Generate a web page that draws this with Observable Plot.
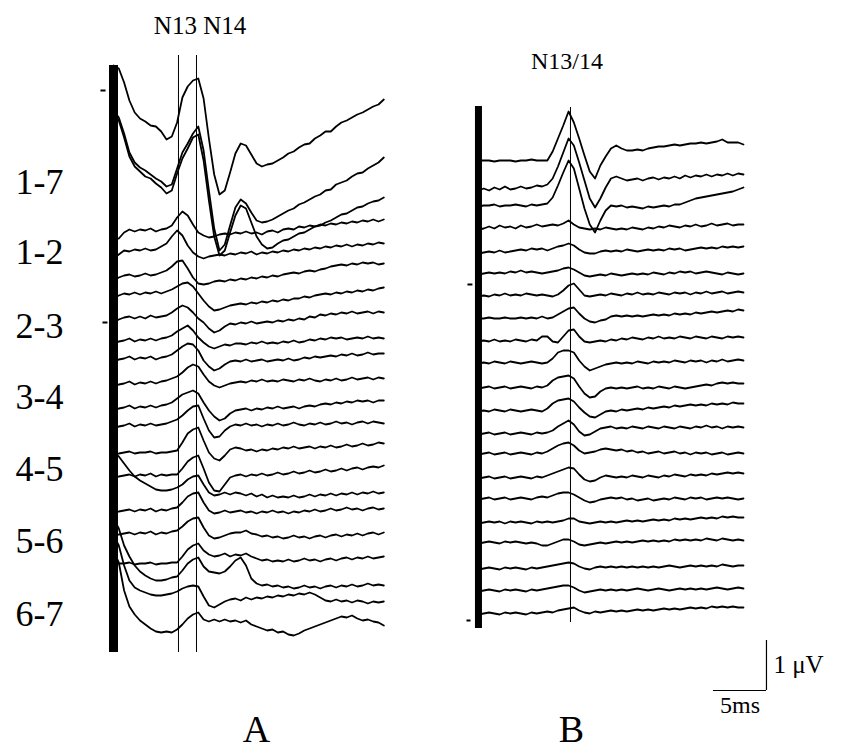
<!DOCTYPE html>
<html><head><meta charset="utf-8">
<script src="https://cdn.jsdelivr.net/npm/d3@7"></script>
<script src="https://cdn.jsdelivr.net/npm/@observablehq/plot@0.6"></script>
<style>body{margin:0;background:#fff}#chart{width:846px;height:753px}</style>
</head><body><div id="chart"></div>
<script>
// ---- data -------------------------------------------------------------
const STEP_MS = 0.5;               // sampling step of every trace
const PANEL_B_SHIFT_MS = 34.43;    // panel B drawn to the right of panel A
// baseline of each stacked trace (µV)
const offsetsA = [12.0,10.86,10.06,9.4,9.0,8.5,8.14,7.66,7.2,6.84,6.34,5.86,5.5,4.96,4.5,4.2,3.8,3.34,2.74,2.3,1.96,1.5];
// deflections, hundredths of µV, one value every 0.5 ms
const tracesA = [
[70,64,36,0,-24,-36,-42,-50,-52,-62,-78,-72,-44,6,28,40,44,4,-76,-148,-188,-180,-144,-106,-86,-90,-108,-126,-132,-128,-126,-120,-114,-106,-102,-94,-88,-86,-76,-70,-62,-62,-52,-44,-40,-34,-28,-24,-18,-12,-8,2],
[94,80,48,10,-10,-20,-26,-34,-42,-48,-58,-54,-22,10,28,48,62,14,-66,-142,-186,-174,-136,-100,-84,-92,-110,-126,-130,-128,-124,-118,-112,-106,-102,-94,-90,-84,-78,-74,-66,-64,-54,-50,-46,-38,-32,-30,-22,-16,-10,0],
[170,154,120,82,62,52,42,38,28,20,8,14,48,78,98,120,126,74,-6,-78,-116,-106,-70,-36,-16,-22,-50,-78,-94,-102,-100,-92,-86,-84,-78,-72,-70,-64,-58,-56,-50,-46,-40,-34,-32,-26,-20,-18,-12,-8,-6,0],
[-20,-16,-4,2,-2,2,0,4,-2,2,4,10,26,38,30,12,-4,-10,-14,-12,-8,-6,-8,-4,-6,-2,-6,-4,-8,-2,0,-4,2,4,2,8,6,10,8,12,10,14,12,16,14,18,16,20,18,22,18,22],
[-16,-8,0,-2,2,0,4,0,2,8,14,28,40,30,10,-4,-12,-16,-12,-10,-8,-10,-6,-8,-4,-6,-2,-8,-4,-6,-2,-4,0,-2,2,0,4,2,6,4,8,6,10,8,12,8,12,10,14,12,16,14],
[-10,-4,0,2,-2,0,4,0,2,6,10,18,28,30,14,-4,-16,-18,-16,-12,-10,-12,-8,-10,-6,-8,-4,-6,-2,-4,0,-2,2,4,6,4,8,10,8,12,14,18,20,22,20,24,22,26,24,26,22,24],
[-10,-4,0,-2,2,-2,2,0,4,0,4,8,14,20,22,14,0,-14,-26,-34,-32,-28,-24,-22,-20,-22,-18,-20,-16,-18,-14,-16,-12,-14,-10,-10,-6,-8,-4,-2,0,-2,2,0,4,2,6,4,8,6,10,12],
[-10,-4,0,2,-2,2,-2,4,0,2,4,10,18,24,20,10,-2,-10,-22,-30,-26,-18,-12,-14,-10,-12,-8,-12,-10,-8,-10,-6,-8,-4,-6,-2,-4,2,0,6,4,8,6,10,8,12,8,10,12,8,12,10],
[-8,-2,0,4,-2,2,0,4,0,4,6,10,18,24,30,20,6,-4,-12,-16,-12,-8,-10,-6,-6,-8,-4,-6,-2,-6,-4,-6,-2,-4,0,-4,-2,2,0,4,2,6,4,6,2,4,6,4,8,4,6,4],
[-8,-2,0,4,-2,2,0,4,-2,2,4,8,16,24,30,28,16,-4,-16,-24,-20,-12,-6,-4,-6,-2,-6,-4,-2,-6,-4,-2,-4,0,-4,-2,2,0,4,2,4,6,4,8,6,10,6,8,12,8,10,10],
[-8,-2,0,4,-2,2,0,4,0,4,6,10,14,22,32,38,34,18,4,-4,-8,-4,0,2,4,2,6,4,8,4,6,4,8,6,4,8,6,10,6,4,8,6,10,6,8,12,8,10,12,8,12,10],
[-8,-2,0,4,-2,2,0,4,0,4,6,10,18,26,30,34,28,10,-6,-18,-26,-22,-12,-6,-4,-2,-6,-2,-4,0,-2,2,-2,0,2,-2,2,4,2,6,8,6,10,8,12,10,14,12,14,10,14,14],
[-8,-2,0,4,-2,2,0,4,0,2,4,8,12,20,30,38,40,14,-10,-24,-22,-10,-2,2,0,4,0,2,-2,2,0,4,0,2,6,2,0,4,2,6,2,4,8,4,6,2,6,8,4,8,6,4],
[-6,-2,0,2,-2,0,0,2,-2,0,0,2,4,20,38,46,50,24,0,-12,-16,-6,6,10,8,4,6,2,6,4,8,6,10,8,12,8,10,12,8,12,10,14,10,12,16,12,14,18,14,16,20,18],
[-6,-2,0,2,-2,2,0,4,-2,2,0,2,2,14,28,36,40,14,-14,-30,-32,-18,-4,0,2,-2,2,0,4,0,2,6,2,4,8,4,6,10,6,8,12,8,10,14,10,14,16,12,16,18,16,20],
[76,68,54,40,28,20,14,8,2,0,0,2,6,12,22,28,30,12,-4,-10,-8,-4,-8,-4,-6,-10,-6,-12,-8,-14,-10,-14,-12,-14,-10,-14,-12,-8,-12,-8,-10,-6,-10,-6,-8,-4,-8,-4,-6,-2,-6,-4],
[-6,-2,0,2,-2,2,0,4,-2,2,0,4,6,16,28,34,36,16,0,-6,-4,0,-4,-2,0,-4,-2,-6,-2,-4,0,-4,-2,-6,-2,-4,0,-2,2,-2,0,4,0,2,6,2,4,0,4,6,2,4],
[-6,-2,0,2,-2,2,0,4,-2,2,0,4,6,14,24,30,32,12,-4,-10,-8,-4,0,2,2,6,0,-2,-6,-4,-8,-6,-10,-8,-4,-8,-6,-10,-6,-4,-8,-4,-2,-6,-2,-4,0,-4,0,2,-2,2],
[-4,0,0,2,-2,0,0,2,-2,0,0,2,2,14,28,36,40,26,18,14,16,20,14,18,16,20,14,10,6,8,4,6,4,8,4,6,10,6,8,4,8,10,6,10,12,8,12,10,14,10,12,14],
[134,114,80,58,40,28,20,14,10,10,12,16,18,30,44,52,56,38,28,26,24,28,38,50,56,40,14,4,0,2,-2,0,-4,-2,-6,-4,0,-4,-2,-6,-2,0,-4,0,-2,2,-2,0,4,0,2,0],
[134,114,74,44,30,24,20,16,14,14,16,18,22,28,32,34,32,12,-6,-10,-4,2,6,8,4,10,6,10,8,12,10,14,12,16,14,18,16,20,16,10,4,2,6,2,4,0,4,2,-2,2,0,2],
[150,126,70,38,22,10,2,-6,-12,-14,-12,-14,-8,2,14,22,26,12,8,12,8,12,8,10,6,10,2,-2,-6,-10,-8,-14,-12,-18,-20,-16,-10,-6,-2,2,6,10,14,18,16,20,14,10,12,8,6,0]
];
const offsetsB = [10.8,10.24,9.9,9.46,8.96,8.54,8.1,7.64,7.2,6.76,6.26,5.8,5.34,4.94,4.46,4.04,3.56,3.16,2.64,2.2,1.74];
const tracesB = [
[0,0,0,-2,0,0,0,-2,0,0,2,0,0,0,18,44,70,98,76,44,10,-22,-36,-10,8,24,30,24,20,20,22,20,24,26,28,28,30,32,30,32,34,34,36,34,36,38,42,36,36,36,32],
[-4,0,-4,2,-2,4,-2,0,4,0,2,6,4,8,20,44,72,100,86,52,16,-20,-38,-20,2,20,24,20,16,18,20,16,20,22,18,22,20,24,20,26,22,26,24,28,24,28,26,30,26,30,28],
[-2,0,0,2,-2,0,0,2,0,-2,2,0,2,4,16,40,66,90,74,34,-6,-38,-54,-30,-10,0,-2,0,-4,-2,-4,-6,-2,-4,-2,0,-2,2,2,6,10,14,16,18,20,22,24,26,28,32,36],
[-4,-2,2,-2,4,0,2,-2,4,0,2,6,2,4,6,4,8,14,6,0,-2,-4,-2,-4,0,-2,-4,-2,-4,0,-2,-4,0,-2,2,0,4,2,0,4,2,6,2,4,8,4,6,8,4,6,6],
[-2,0,2,0,4,0,2,4,6,4,8,6,8,4,8,12,14,18,14,6,0,-2,-2,2,4,2,4,2,6,4,2,4,6,4,6,4,8,6,8,4,6,8,10,8,10,8,12,10,12,10,12],
[-2,0,2,0,2,0,4,2,6,2,4,2,0,2,4,6,10,12,8,2,-4,-6,-4,-2,-4,0,-2,-4,-2,0,-2,0,-2,2,0,-2,2,0,4,2,4,0,2,4,2,0,-2,2,0,-2,0],
[-2,0,-2,2,0,4,0,2,0,4,2,0,2,0,-2,2,10,20,24,12,0,-2,0,2,0,4,2,0,4,2,6,2,4,2,6,4,2,6,4,6,2,6,4,8,4,6,8,4,6,8,6],
[0,0,2,0,0,2,0,0,2,0,2,0,4,0,2,8,14,20,22,10,0,-6,-8,-4,-2,4,6,4,6,4,6,4,6,8,6,8,6,10,8,10,8,12,10,12,14,12,14,16,14,18,16],
[-2,0,-2,2,-2,0,-2,2,0,-2,2,0,8,8,-2,-4,8,20,22,8,-2,-4,-2,0,-2,2,0,4,2,6,4,2,6,4,8,4,6,4,8,6,4,8,6,4,8,6,4,8,6,8,6],
[-2,0,-2,2,0,-2,2,0,-2,0,2,0,-2,0,8,20,24,24,20,4,-8,-16,-12,-8,-4,-2,0,-2,0,-2,2,0,-2,2,0,2,0,4,2,0,4,2,4,0,4,2,6,2,4,6,4],
[-2,0,2,-2,0,2,-2,0,2,0,-2,2,0,4,14,20,22,24,18,2,-12,-20,-18,-8,-2,0,-2,0,-2,0,2,-2,0,-2,2,0,-2,2,0,-2,0,2,4,6,4,8,10,8,10,8,8],
[-2,0,-2,2,0,-2,2,0,-2,0,2,0,-2,4,14,20,22,24,18,6,-4,-12,-14,-8,-2,0,-2,2,0,2,4,2,6,4,6,8,6,10,8,10,12,10,12,10,14,12,14,12,16,14,14],
[-2,0,2,-2,0,2,-2,0,2,0,-2,2,0,2,6,14,20,26,18,4,-4,-2,4,10,12,14,10,12,10,14,12,10,14,12,10,14,12,10,14,12,10,14,12,16,12,14,10,14,12,14,12],
[-2,0,2,-2,0,2,-2,0,2,0,-2,2,0,4,10,16,20,22,16,6,0,2,4,8,10,8,6,8,4,6,2,4,0,2,4,0,2,4,0,2,-2,2,0,2,-2,0,2,-2,0,2,0],
[-2,0,2,-2,0,2,-2,0,2,0,-2,2,0,4,8,12,16,20,18,6,-4,-8,-6,0,4,2,0,2,0,4,2,0,4,2,0,4,2,6,4,2,6,4,6,4,8,6,8,10,8,10,8],
[-2,0,2,-2,0,2,-2,0,2,0,-2,2,4,2,6,10,12,12,8,2,-4,-8,-6,-2,0,2,0,2,-2,0,-4,-2,0,-4,-2,0,-2,2,0,-2,2,0,2,-2,0,2,0,2,0,-2,0],
[-2,0,2,0,2,-2,2,0,2,0,-2,2,0,2,0,2,4,8,8,2,0,-2,0,2,0,2,0,2,4,2,4,2,4,6,4,6,4,8,6,8,6,8,10,8,10,8,12,10,12,10,10],
[-2,0,2,0,-2,2,0,2,0,-2,0,-2,-6,-6,-2,2,6,6,2,-4,-6,-4,-2,0,-2,0,2,0,2,0,2,4,2,4,2,4,2,6,4,6,4,6,4,8,6,4,8,6,4,6,4],
[-2,0,2,0,-2,2,0,2,0,-2,2,0,2,4,6,8,10,12,10,4,0,-2,2,4,2,4,2,4,2,4,2,4,2,4,2,4,6,4,2,4,6,4,6,4,6,4,8,6,4,6,6],
[-2,0,2,0,-2,2,0,2,0,-2,2,0,2,4,6,8,10,10,6,0,-4,-2,0,2,0,2,0,2,0,2,4,2,0,2,4,2,0,2,4,2,4,2,4,2,4,6,4,2,4,6,4],
[-2,0,2,0,-2,2,0,2,0,-2,2,0,2,4,2,6,8,10,12,6,2,0,4,2,4,6,4,6,4,6,8,6,8,6,8,10,8,10,8,10,12,10,12,10,14,12,14,12,14,12,12]
];
// latency markers (ms) and their vertical extent (µV)
const latencyLines = [
  {panel:"A", t:6.13, top:12.9, bottom:0.96},
  {panel:"A", t:7.83, top:12.9, bottom:0.96},
  {panel:"B", t:8.68, top:11.86, bottom:1.56}
];
const peakLabels = [
  {panel:"A", t:8.16, v:13.34, text:"N13 N14", size:25},
  {panel:"B", t:8.35, v:12.64, text:"N13/14", size:24}
];
// stimulus artefact bars
const stimBars = [
  {panel:"A", t:0, top:12.7, bottom:0.96, w:9},
  {panel:"B", t:0, top:11.88, bottom:1.44, w:7}
];
const smallMarks = [
  {panel:"A", t1:-1.23, t2:-0.75, v:12.2},
  {panel:"A", t1:-1.04, t2:-0.57, v:7.56},
  {panel:"B", t1:-1.04, t2:-0.57, v:8.32},
  {panel:"B", t1:-1.13, t2:-0.75, v:1.6}
];
const rowLabels = ["1-7","1-2","2-3","3-4","4-5","5-6","6-7"];
const rowLabelLevels = [10.14,8.74,7.26,5.84,4.4,2.96,1.5];
const panelLabels = [{text:"A", t:13.49}, {text:"B", t:8.77, panel:"B"}];
const scaleBar = {t:61.6, v:0.2, ms:5, uV:1};

// ---- build ------------------------------------------------------------
const shift = p => p === "B" ? PANEL_B_SHIFT_MS : 0;
const rows = [];
function addPanel(panel, offsets, traces) {
  traces.forEach((vals, i) => vals.forEach((d, k) =>
    rows.push({id: panel + i, x: k * STEP_MS + shift(panel), y: offsets[i] + d / 100})));
}
addPanel("A", offsetsA, tracesA);
addPanel("B", offsetsB, tracesB);

const serif = "'Liberation Serif','Times New Roman',serif";
const chart = Plot.plot({
  width: 846, height: 753, margin: 0,
  x: {domain: [-10.66, 69.15], axis: null},
  y: {domain: [-1.06, 14], axis: null},
  style: {background: "#fff"},
  marks: [
    Plot.ruleX(latencyLines, {x: d => d.t + shift(d.panel), y1: "bottom", y2: "top", stroke: "#000", strokeWidth: 1}),
    Plot.line(rows, {x: "x", y: "y", z: "id", stroke: "#000", strokeWidth: 1.8, curve: "linear"}),
    Plot.ruleX(stimBars, {x: d => d.t + shift(d.panel), y1: "bottom", y2: "top", stroke: "#000", strokeWidth: d => d.w}),
    Plot.link(smallMarks, {x1: d => d.t1 + shift(d.panel), x2: d => d.t2 + shift(d.panel), y1: "v", y2: "v", stroke: "#000", strokeWidth: 2}),
    Plot.text(peakLabels, {x: d => d.t + shift(d.panel), y: "v", text: "text", fontSize: d => d.size, lineAnchor: "bottom", fontFamily: serif, fill: "#000"}),
    Plot.text(rowLabels, {y: (d, i) => rowLabelLevels[i], text: d => d, frameAnchor: "left", dx: 15, textAnchor: "start", lineAnchor: "bottom", fontSize: 36, fontFamily: serif, fill: "#000"}),
    Plot.text(panelLabels, {x: d => d.t + shift(d.panel), frameAnchor: "bottom", dy: -12, lineAnchor: "bottom", text: "text", fontSize: 38, fontFamily: serif, fill: "#000"}),
    Plot.ruleX([scaleBar], {x: "t", y1: "v", y2: d => d.v + d.uV, stroke: "#000", strokeWidth: 1.2}),
    Plot.ruleY([scaleBar], {y: "v", x1: d => d.t - d.ms, x2: "t", stroke: "#000", strokeWidth: 1.2}),
    Plot.text([scaleBar], {x: "t", y: d => d.v + d.uV * 0.36, text: d => d.uV + " μV", textAnchor: "start", lineAnchor: "bottom", dx: 7, fontSize: 25, fontFamily: serif, fill: "#000"}),
    Plot.text([scaleBar], {x: d => d.t - d.ms / 2, y: "v", text: d => d.ms + "ms", lineAnchor: "top", dy: 5, fontSize: 24, fontFamily: serif, fill: "#000"})
  ]
});
document.getElementById("chart").append(chart);
</script></body></html>
